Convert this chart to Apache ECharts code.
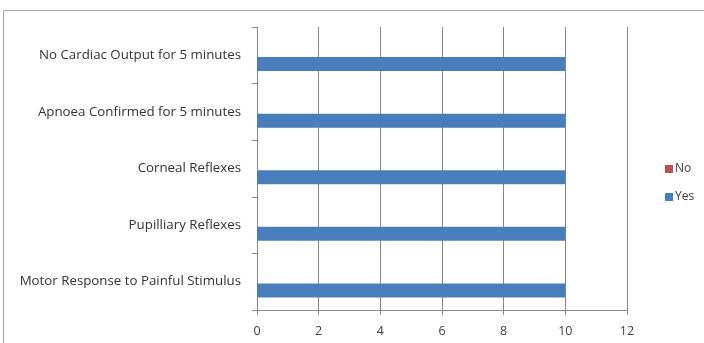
<!DOCTYPE html>
<html>
<head>
<meta charset="utf-8">
<script src="https://cdn.jsdelivr.net/npm/echarts@6/dist/echarts.min.js"></script>
<style>
html,body{margin:0;padding:0;background:#fff;}
#c{width:704px;height:343px;}
</style>
</head>
<body>
<div id="c"></div>
<script>
var categories = [
  "Motor Response to Painful Stimulus",
  "Pupilliary Reflexes",
  "Corneal Reflexes",
  "Apnoea Confirmed for 5 minutes",
  "No Cardiac Output for 5 minutes"
];
var noValues = [0, 0, 0, 0, 0];
var yesValues = [10, 10, 10, 10, 10];
var xTicks = { min: 0, max: 12, interval: 2 };

var chart = echarts.init(document.getElementById('c'), null, { renderer: 'canvas' });
var font = 'Open Sans';
chart.setOption({
  animation: false,
  backgroundColor: '#ffffff',
  graphic: [{
    type: 'rect',
    shape: { x: 3.5, y: 10.5, width: 710, height: 340 },
    style: { fill: 'none', stroke: '#a6a6a6', lineWidth: 1 },
    silent: true
  }],
  grid: { left: 257, right: 77, top: 27, bottom: 33, containLabel: false },
  legend: {
    orient: 'vertical',
    left: 660,
    top: 158,
    itemWidth: 8,
    itemHeight: 8,
    itemGap: 16,
    icon: 'rect',
    textStyle: { fontFamily: font, fontSize: 12, color: '#404040', padding: [0, 0, 0, -3] },
    data: ['No', 'Yes']
  },
  xAxis: {
    type: 'value',
    min: xTicks.min,
    max: xTicks.max,
    interval: xTicks.interval,
    axisLine: { show: true, lineStyle: { color: '#868686', width: 1 } },
    axisTick: { show: true, length: 5, lineStyle: { color: '#868686' } },
    axisLabel: { fontFamily: font, fontSize: 12.5, color: '#404040', margin: 15 },
    splitLine: { show: true, lineStyle: { color: '#868686', width: 1 } }
  },
  yAxis: {
    type: 'category',
    data: categories,
    axisLine: { show: true, lineStyle: { color: '#868686', width: 1 } },
    axisTick: { show: true, length: 5, alignWithLabel: false, lineStyle: { color: '#868686' } },
    axisLabel: { fontFamily: font, fontSize: 13.3, color: '#333333', margin: 16, padding: [4, 0, 0, 0] },
    splitLine: { show: false }
  },
  series: [
    {
      name: 'No',
      type: 'bar',
      data: noValues,
      barWidth: 14,
      barGap: '25%',
      itemStyle: { color: '#C0504D' }
    },
    {
      name: 'Yes',
      type: 'bar',
      data: yesValues,
      barWidth: 14,
      barGap: '25%',
      itemStyle: { color: '#4A7EBB' }
    }
  ]
});
</script>
</body>
</html>
